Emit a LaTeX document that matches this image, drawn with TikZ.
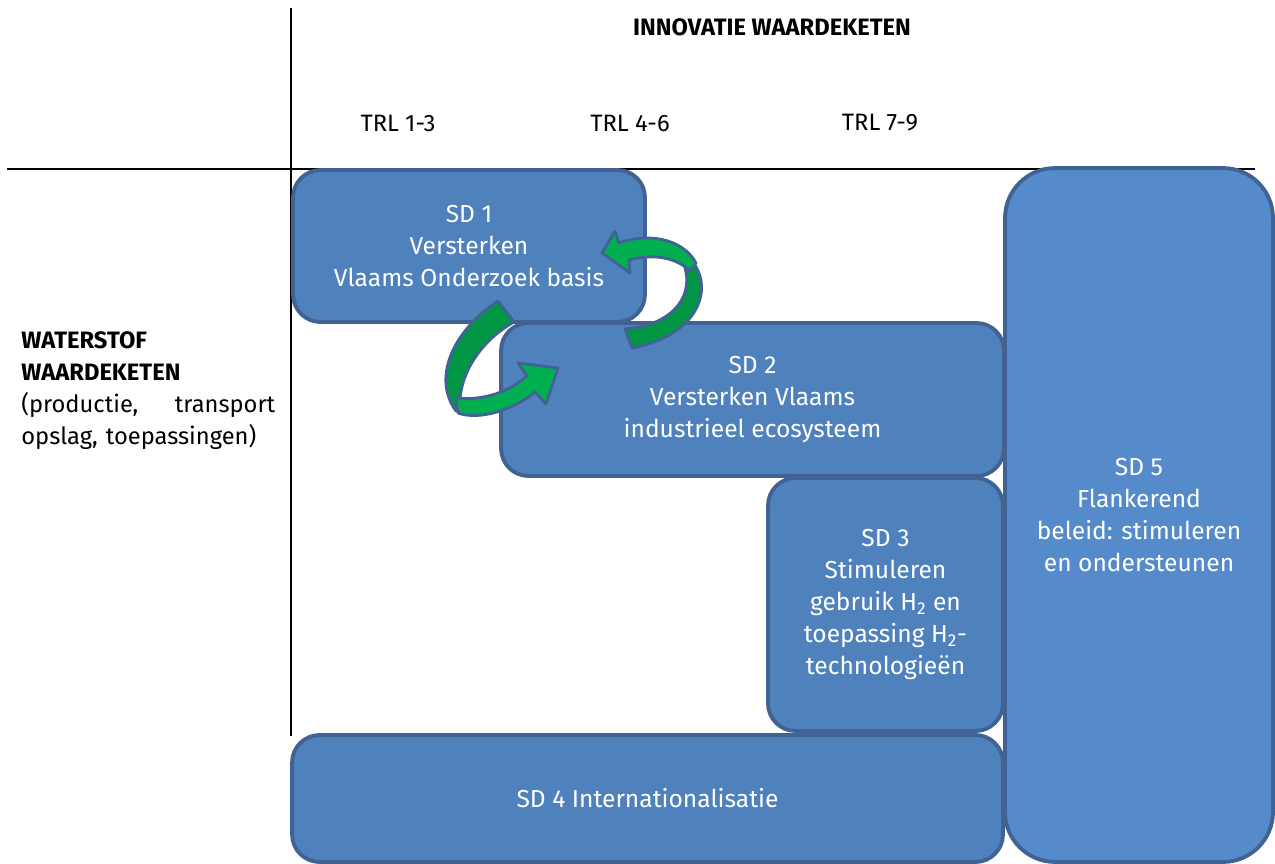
\documentclass[tikz,border=0pt]{standalone}
\usepackage{fontspec}
\setmainfont{Fira Sans}
\usepackage{tikz}
\usetikzlibrary{positioning}
\definecolor{sdfill}{RGB}{79,129,189}
\definecolor{sdfilllight}{RGB}{85,139,203}
\definecolor{sdborder}{RGB}{64,99,148}
\definecolor{greenfront}{RGB}{0,176,80}
\definecolor{greenback}{RGB}{0,150,68}

\begin{document}
\begin{tikzpicture}[
    x=0.02cm, y=-0.02cm,
    font=\fontsize{14}{18.2}\selectfont,
    sd_node/.style={draw=sdborder, line width=2.2pt, fill=sdfill, rounded corners=0.55cm,
        text=white, align=center, inner sep=0pt},
    head_node/.style={font=\fontsize{13.5}{18.2}\selectfont, inner sep=0pt},
    axis_line/.style={line width=1.1pt, black},
    cycle_arrow/.style={draw=sdborder, line width=1.6pt, line join=round}
]
\useasboundingbox (0,0) rectangle (1275,863);

% --- AXES ---
\coordinate (h_start) at (7,169);
\coordinate (h_end) at (1255,169);
\coordinate (v_start) at (291,8);
\coordinate (v_end) at (291,736);
\draw[axis_line] (h_start) -- (h_end);
\draw[axis_line] (v_start) -- (v_end);

% --- HEADERS ---
\node[head_node, font=\fontsize{13.5}{18.2}\selectfont\bfseries] (innov) at (772,27) {INNOVATIE WAARDEKETEN};
\node[head_node] (trl_low) at (398,123) {TRL 1-3};
\node[head_node] (trl_mid) at (630,123) {TRL 4-6};
\node[head_node] (trl_high) at (880,123) {TRL 7-9};

\node[head_node, anchor=north west, text width=5.08cm, align=left] (h2chain) at (21,331)
    {{\bfseries WATERSTOF}\\ {\bfseries WAARDEKETEN}\\ (productie,\hfill transport\\ opslag, toepassingen)};

% --- BOXES ---
\node[sd_node, fill=sdfilllight, rounded corners=1cm, minimum width=5.36cm, minimum height=13.88cm]
    (sd5) at (1139,515) {SD 5\\ Flankerend\\ beleid: stimuleren\\ en ondersteunen};
\node[sd_node, minimum width=7.04cm, minimum height=3.04cm] (sd1) at (469,246)
    {SD 1\\ Versterken\\ Vlaams Onderzoek basis};
\node[sd_node, minimum width=10.06cm, minimum height=3.06cm] (sd2) at (752.5,399.5)
    {SD 2\\ Versterken Vlaams\\ industrieel ecosysteem};
\node[sd_node, minimum width=4.7cm, minimum height=5.06cm] (sd3) at (885.5,604.5)
    {SD 3\\ Stimuleren\\ gebruik H\textsubscript{2} en\\ toepassing H\textsubscript{2}-\\ technologieën};
\node[sd_node, minimum width=14.22cm, minimum height=2.54cm] (sd4) at (647.5,798.5)
    {SD 4 Internationalisatie};

% --- CYCLE ARROWS (SD1 <-> SD2) ---
% upper one, back part then front part with head
\filldraw[cycle_arrow, fill=greenback] (686,255) .. controls (716,280) and (705,334) .. (632,348)
    -- (625,329) .. controls (668,326) and (694,300) .. (685,268) -- cycle;
\filldraw[cycle_arrow, fill=greenfront] (602,253) -- (615,231) -- (619,243)
    .. controls (645,233) and (682,237) .. (696,263) -- (690,271)
    .. controls (675,256) and (650,254) .. (629,260) -- (630,273) -- cycle;
% lower one
\filldraw[cycle_arrow, fill=greenback] (498,301) -- (514,322)
    .. controls (485,338) and (462,368) .. (460,400) -- (456,411)
    .. controls (433,380) and (450,333) .. (498,301) -- cycle;
\filldraw[cycle_arrow, fill=greenfront] (456,398) .. controls (485,401) and (510,391) .. (527,376)
    -- (518,363) -- (558,368) -- (546,404) -- (535,392)
    .. controls (515,409) and (480,421) .. (458,413) -- cycle;

\end{tikzpicture}
\end{document}
